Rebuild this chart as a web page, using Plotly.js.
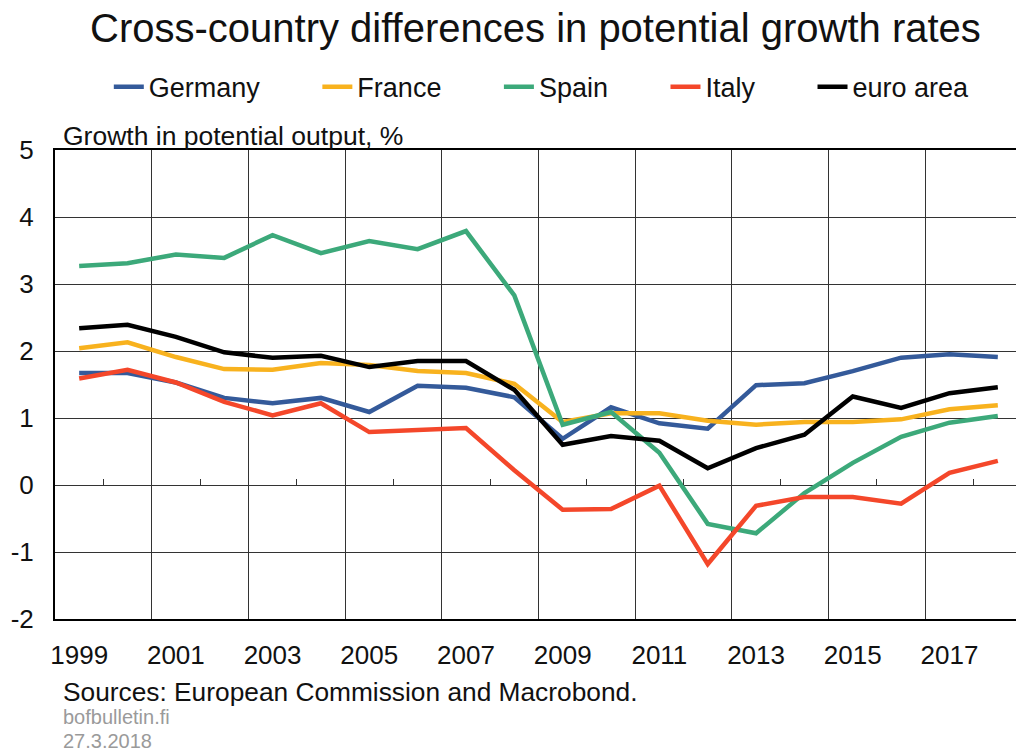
<!DOCTYPE html>
<html>
<head>
<meta charset="utf-8">
<script src="https://cdn.plot.ly/plotly-3.0.1.min.js"></script>
<style>html,body{margin:0;padding:0;background:#fff;}</style>
</head>
<body>
<div id="chart" style="width:1016px;height:752px;"></div>
<script>
const years = [1999,2000,2001,2002,2003,2004,2005,2006,2007,2008,2009,2010,2011,2012,2013,2014,2015,2016,2017,2018];
const germany = [1.67,1.67,1.53,1.30,1.22,1.30,1.09,1.48,1.45,1.31,0.69,1.16,0.92,0.84,1.49,1.52,1.70,1.90,1.95,1.91];
const france  = [2.04,2.13,1.91,1.73,1.72,1.82,1.79,1.70,1.67,1.51,0.94,1.07,1.07,0.96,0.90,0.94,0.94,0.98,1.13,1.19];
const spain   = [3.27,3.31,3.44,3.39,3.73,3.46,3.64,3.52,3.79,2.83,0.90,1.09,0.48,-0.58,-0.72,-0.12,0.33,0.72,0.93,1.03];
const italy   = [1.59,1.72,1.53,1.24,1.04,1.22,0.79,0.82,0.85,0.22,-0.37,-0.36,-0.01,-1.18,-0.31,-0.18,-0.18,-0.28,0.18,0.36];
const euro    = [2.34,2.39,2.21,1.98,1.90,1.93,1.76,1.85,1.85,1.42,0.60,0.73,0.66,0.25,0.55,0.75,1.32,1.15,1.37,1.46];
const labelYears = [1999,2001,2003,2005,2007,2009,2011,2013,2015,2017];
const labelText = labelYears.map(String);
const yTickVals = [-2,-1,0,1,2,3,4,5];
const yTickText = ['-2','-1','0','1','2','3','4','5'];

const seriesNames = ['Germany','France','Spain','Italy','euro area'];
const seriesData = [germany, france, spain, italy, euro];
const seriesColors = ['#345A9A','#F8B21E','#3CA97A','#F4472A','#000000'];
const seriesAxes = ['x','x','x','x2','x3'];
const pad = '\u00A0'.repeat(7);

const FONT = 'Liberation Sans, Arial, sans-serif';
const traces = seriesNames.map((n,i) => ({
  type:'scatter', mode:'lines', x: years, y: seriesData[i],
  name: i < seriesNames.length-1 ? n + pad : n,
  line:{color: seriesColors[i], width:4.5},
  xaxis: seriesAxes[i], yaxis:'y'
}));

const yMin = -2, yMax = 5;
const xRange = [1998.5, 2018.376];
const layout = {
  width:1016, height:752,
  margin:{l:55, r:0, t:150, b:133},
  paper_bgcolor:'#fff', plot_bgcolor:'#fff',
  font:{family:FONT, color:'#111', size:26},
  title:{text:'Cross-country differences in potential growth rates', font:{size:40, color:'#111', family:FONT}, x:0.527, xanchor:'center', y:0.963, yanchor:'middle'},
  showlegend:true,
  legend:{orientation:'h', x:0.056, xanchor:'left', y:1.134, yanchor:'middle', font:{size:27, color:'#111'}, bgcolor:'rgba(0,0,0,0)', borderwidth:0},
  xaxis:{range:xRange, tickmode:'array', tickvals:labelYears, ticktext:labelText,
         showgrid:false, zeroline:false, showline:true, linecolor:'#000', linewidth:2, mirror:true,
         ticks:'', ticklabelstandoff:12, tickfont:{size:26, color:'#111'}},
  xaxis2:{overlaying:'x', matches:'x', anchor:'y', range:xRange, tickmode:'linear', tick0:2000.5, dtick:2,
          showgrid:true, gridcolor:'#333', gridwidth:1, showticklabels:false, ticks:'', showline:false, zeroline:false},
  xaxis3:{overlaying:'x', matches:'x', anchor:'free', position:(0-yMin)/(yMax-yMin), range:xRange,
          tickmode:'linear', tick0:1999.5, dtick:2, ticks:'inside', ticklen:6, tickwidth:1, tickcolor:'#333',
          showgrid:false, showticklabels:false, showline:false, zeroline:false},
  yaxis:{range:[yMin,yMax], tickmode:'array', tickvals:yTickVals, ticktext:yTickText, showgrid:true, gridcolor:'#333', gridwidth:1,
         zeroline:true, zerolinecolor:'#333', zerolinewidth:1,
         showline:true, linecolor:'#000', linewidth:2, ticks:'', ticklabelstandoff:14,
         tickfont:{size:26, color:'#111'}},
  annotations:[
    {xref:'paper', yref:'paper', x:(61-55)/961, y:(619-136)/469, xanchor:'left', yanchor:'middle', showarrow:false,
     text:'Growth in potential output, %', font:{size:26.5, color:'#111'}},
    {xref:'paper', yref:'paper', x:(61-55)/961, y:(619-692)/469, xanchor:'left', yanchor:'middle', showarrow:false,
     text:'Sources: European Commission and Macrobond.', font:{size:26.3, color:'#111'}},
    {xref:'paper', yref:'paper', x:(61-55)/961, y:(619-717)/469, xanchor:'left', yanchor:'middle', showarrow:false,
     text:'bofbulletin.fi', font:{size:20, color:'#9a9a9a'}},
    {xref:'paper', yref:'paper', x:(61-55)/961, y:(619-741)/469, xanchor:'left', yanchor:'middle', showarrow:false,
     text:'27.3.2018', font:{size:20, color:'#9a9a9a'}}
  ]
};
Plotly.newPlot('chart', traces, layout, {staticPlot:true, displayModeBar:false});
</script>
</body>
</html>
